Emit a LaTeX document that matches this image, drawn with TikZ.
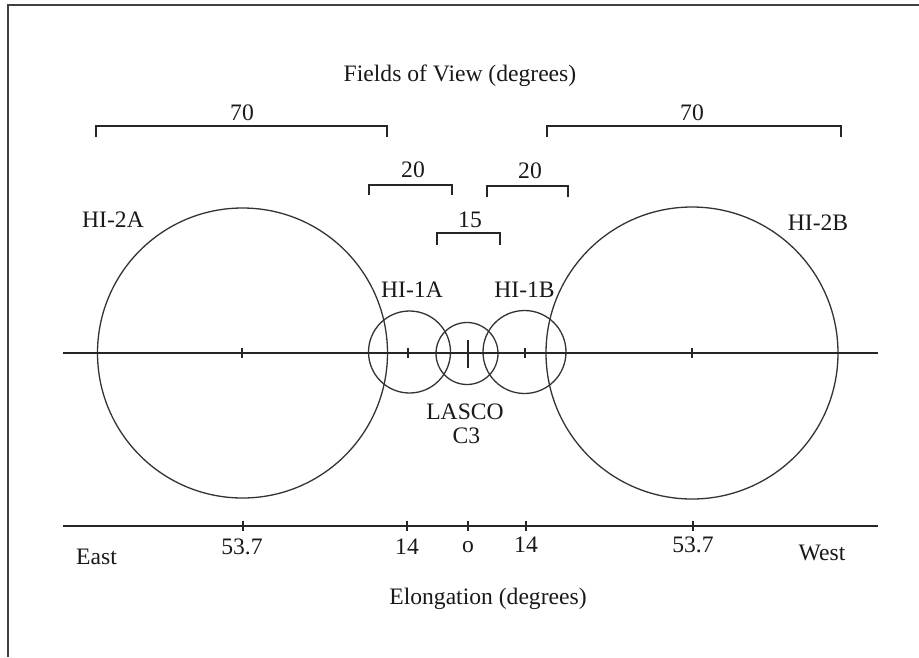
\documentclass[tikz,border=0pt]{standalone}
\usepackage{fontspec}
\setmainfont{Liberation Serif}
\begin{document}
\begin{tikzpicture}[x=1pt,y=-1pt,
  ln/.style={line width=1.5pt,draw=black!85},
  ring/.style={circle,draw=black!80,line width=1.3pt,inner sep=0pt},
  lbl/.style={inner sep=0pt,anchor=base,font=\fontsize{23.6}{28}\selectfont,text=black!90}]
\useasboundingbox (0,0) rectangle (919,657);
\fill[white] (0,0) rectangle (919,657);
% frame
\coordinate (f1) at (8,657);
\coordinate (f2) at (8,5);
\coordinate (f3) at (919,5);
\draw[line width=1.5pt,draw=black!75] (f1) -- (f2) -- (f3);

% circles
\node (hi2a) [ring,minimum size=290pt] at (242.5,353) {};
\node (hi2b) [ring,minimum size=292pt] at (692,353) {};
\node (hi1a) [ring,minimum size=82pt] at (409.5,352) {};
\node (hi1b) [ring,minimum size=83pt] at (524.5,352) {};
\node (lasco) [ring,minimum size=62pt] at (467,353.5) {};

% middle axis
\coordinate (m1) at (63,353);
\coordinate (m2) at (878,353);
\draw[ln] (m1) -- (m2);
\foreach \x in {242,408,525,692}{\draw[ln] (\x,348) -- (\x,358);}
\draw[ln] (468,340) -- (468,368);

% bottom axis
\coordinate (b1) at (63,526);
\coordinate (b2) at (878,526);
\draw[ln] (b1) -- (b2);
\foreach \x in {243,407,468,526,693}{\draw[ln] (\x,520.5) -- (\x,531);}

% brackets
\draw[ln] (96,137) -- (96,126) -- (387,126) -- (387,137);
\draw[ln] (547,137) -- (547,126) -- (841,126) -- (841,137);
\draw[ln] (369,195) -- (369,185) -- (452,185) -- (452,195);
\draw[ln] (487,197) -- (487,186) -- (568,186) -- (568,197);
\draw[ln] (437,245) -- (437,233) -- (500,233) -- (500,245);

% texts
\node (tfov) [lbl] at (460,81) {Fields of View (degrees)};
\node (t70a) [lbl] at (242,120) {70};
\node (t70b) [lbl] at (692,120) {70};
\node (t20a) [lbl] at (413,177) {20};
\node (t20b) [lbl] at (530,178) {20};
\node (t15) [lbl] at (470,227) {15};
\node (thi2a) [lbl] at (113,227) {HI-2A};
\node (thi2b) [lbl] at (818,230) {HI-2B};
\node (thi1a) [lbl] at (412,297) {HI-1A};
\node (thi1b) [lbl] at (524.5,297) {HI-1B};
\node (tlasco) [lbl] at (465,419) {LASCO};
\node (tc3) [lbl] at (466.5,443) {C3};
\node (e1) [lbl] at (242,554) {53.7};
\node (e2) [lbl] at (407,554) {14};
\node (e3) [lbl] at (468,552) {o};
\node (e4) [lbl] at (526,552) {14};
\node (e5) [lbl] at (693,552) {53.7};
\node (teast) [lbl] at (96.5,564) {East};
\node (twest) [lbl] at (822,560) {West};
\node (telong) [lbl] at (488,604) {Elongation (degrees)};
\end{tikzpicture}
\end{document}
